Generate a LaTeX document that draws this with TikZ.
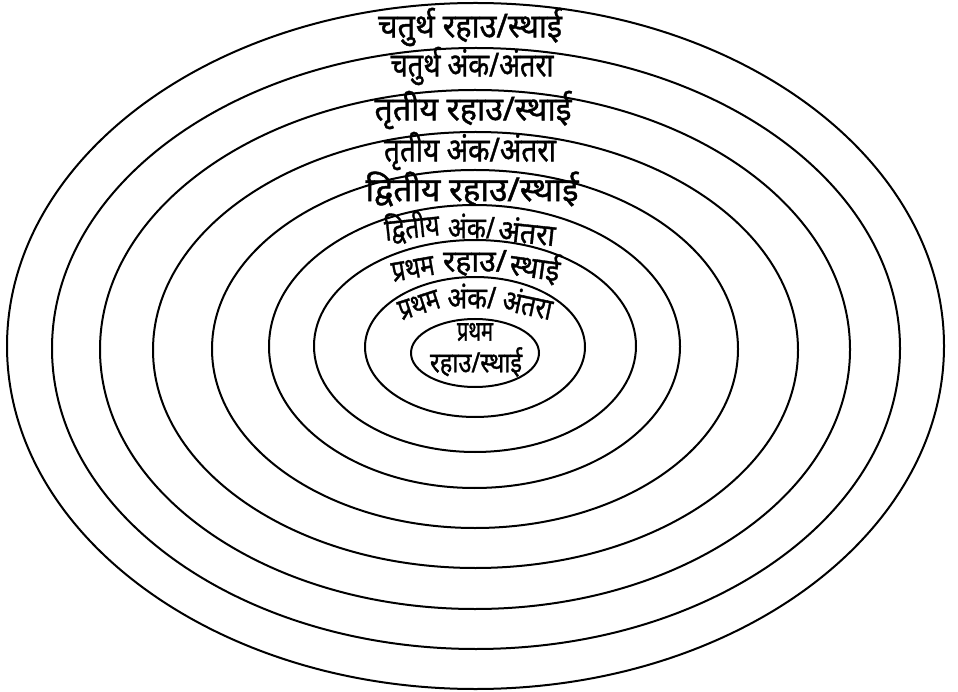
\documentclass[tikz,border=0pt]{standalone}
\usepackage{fontspec}
\usepackage{graphicx}
\newfontfamily\dev[Script=Devanagari,FakeBold=1.2]{Noto Sans}
\newcommand{\fitw}[2]{\resizebox{#1pt}{\height}{#2}}
\tikzset{
  ring/.style={line width=2pt},
  lbl/.style={inner sep=0pt, font=\dev\fontsize{33}{38}\selectfont},
  slbl/.style={inner sep=0pt, font=\dev\fontsize{30}{34}\selectfont},
  tlbl/.style={inner sep=0pt, font=\dev\fontsize{28}{32}\selectfont},
}
\begin{document}
\begin{tikzpicture}[x=1pt,y=-1pt]
\useasboundingbox (0,0) rectangle (958,692);
% rings
\draw[ring] (475.5,346) ellipse (468.5 and 343);
\draw[ring] (476,348.5) ellipse (424 and 300.5);
\draw[ring] (475,349.5) ellipse (375 and 259.5);
\draw[ring] (475.5,350) ellipse (322.5 and 218);
\draw[ring] (475,349) ellipse (263 and 179);
\draw[ring] (474.5,346.5) ellipse (205.5 and 141.5);
\draw[ring] (475,346) ellipse (161 and 106);
\draw[ring] (475,347) ellipse (110 and 70);
\draw[ring] (475,353) ellipse (64 and 34);
% labels
\node[lbl] (l1) at (470,27) {\fitw{184}{चतुर्थ रहाउ/स्थाई}};
\node[lbl] (l2) at (472,66) {\fitw{163}{चतुर्थ अंक/अंतरा}};
\node[lbl] (l3) at (473,110) {\fitw{197}{तृतीय रहाउ/स्थाई}};
\node[lbl] (l4) at (470,151) {\fitw{172}{तृतीय अंक/अंतरा}};
\node[lbl] (l5) at (472,189) {\fitw{213}{द्वितीय रहाउ/स्थाई}};
\node[slbl,rotate=6] (l6a) at (412,227) {\fitw{55}{द्वितीय}};
\node[slbl] (l6b) at (471.5,226) {\fitw{47}{अंक/}};
\node[slbl,rotate=-6] (l6c) at (527,231) {\fitw{57}{अंतरा}};
\node[slbl,rotate=10] (l7a) at (413,269) {\fitw{43}{प्रथम}};
\node[slbl] (l7b) at (475,263) {\fitw{64}{रहाउ/}};
\node[slbl,rotate=-8] (l7c) at (535,267) {\fitw{50}{स्थाई}};
\node[slbl,rotate=18] (l8a) at (419,305) {\fitw{42}{प्रथम}};
\node[slbl] (l8b) at (472,296) {\fitw{49}{अंक/}};
\node[slbl,rotate=-12] (l8c) at (528,303) {\fitw{50}{अंतरा}};
\node[tlbl] (l9a) at (475,332) {\fitw{36}{प्रथम}};
\node[tlbl] (l9b) at (476,362) {\fitw{92}{रहाउ/स्थाई}};
\end{tikzpicture}
\end{document}
